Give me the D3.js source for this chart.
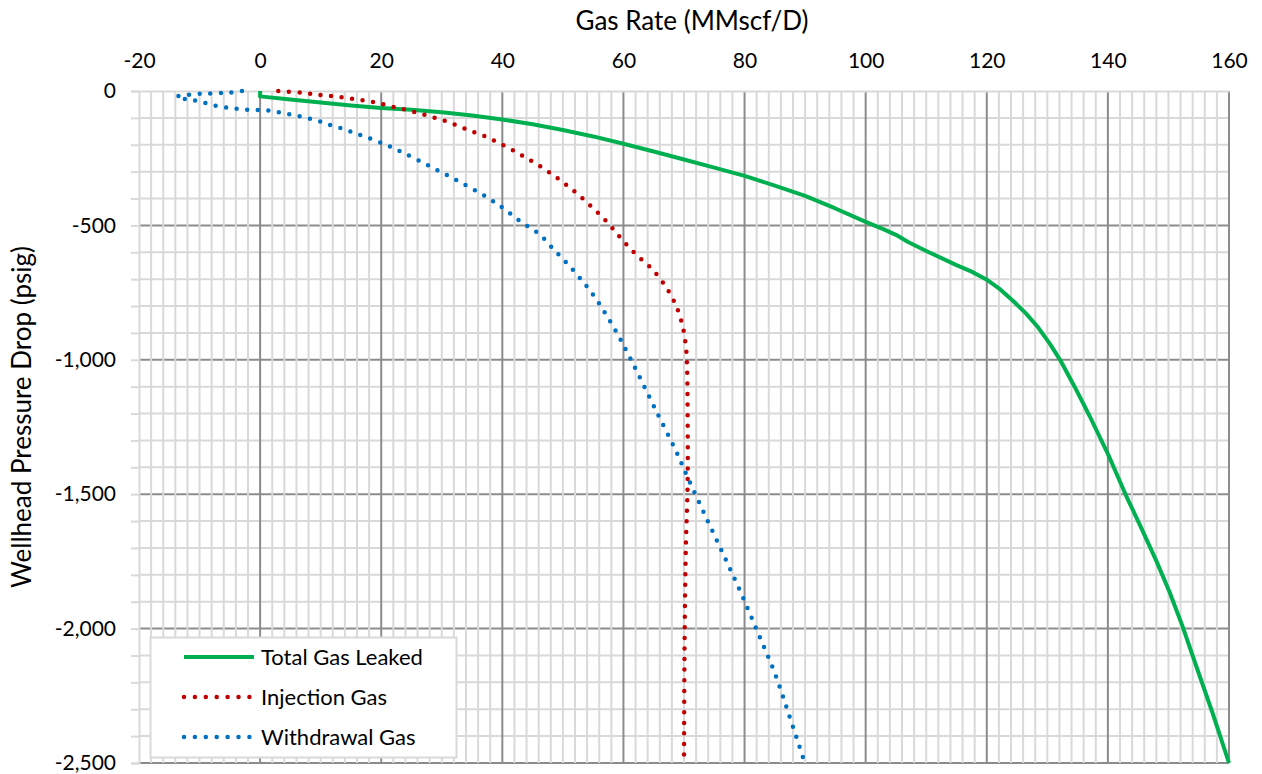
<!DOCTYPE html>
<html>
<head>
<meta charset="utf-8">
<script src="https://cdn.jsdelivr.net/npm/d3@7"></script>
<style>
  body { margin: 0; background: #fff; }
  svg text { font-family: Lato, "Noto Sans", sans-serif; fill: #000; }
</style>
</head>
<body>
<svg id="chart" width="1262" height="774"></svg>
<script>
// Axis ticks
const xTickValues = [-20, 0, 20, 40, 60, 80, 100, 120, 140, 160];
const yTickValues = [0, -500, -1000, -1500, -2000, -2500];
const yTickLabels = ["0", "-500", "-1,000", "-1,500", "-2,000", "-2,500"];

// Total gas leaked: rate (MMscf/D) and wellhead pressure drop (psig)
const totalRate = [0, 0, 5, 10, 15, 20, 25, 30, 35, 40, 45, 50, 55, 60, 65, 70, 75, 80, 85, 90, 95, 100,
  103, 105, 107, 110, 115, 117.5, 120, 122, 124.4, 126.5, 128.5, 130.4, 132.1, 134.5, 137, 140, 143,
  145.6, 148, 150.2, 152.3, 154.6, 157.3, 160];
const totalDrop = [0, -20, -32, -43, -54, -63, -70, -79, -91, -106, -124, -145, -169, -196, -225, -255, -285, -316,
  -352, -390, -437, -487, -515, -535, -562, -595, -648, -672, -702, -734, -782, -828, -880, -940, -1000, -1100, -1210,
  -1350, -1505, -1630, -1748, -1865, -1990, -2140, -2315, -2500];

// Injection gas
const injectionRate = [3, 7, 10, 13, 16, 19, 22, 25, 28, 31, 34, 37, 40.6, 43.6, 46.6, 49.5, 52.3, 54.9, 57.4,
  59.7, 62.1, 64.7, 66.9, 68.6, 69.7, 70.3, 70.5, 70.6, 70.6, 70.3, 70.1, 70.0];
const injectionDrop = [0, -7, -15, -22, -32, -42, -59, -75, -94, -115, -142, -167, -207, -244, -285, -331, -381, -434, -490,
  -551, -608, -662, -725, -794, -868, -947, -1025, -1200, -1460, -1700, -2040, -2500];

// Withdrawal gas
const withdrawalRate = [-3, -5, -8.4, -10.2, -12.1, -13.8, -12.1, -10.5, -8.8, -7.1, -5.3, -3.6, -1.8, 0, 1.8, 3.5, 5.2,
  6.9, 8.6, 10.3, 11.9, 13.7, 15.3, 17, 20.2, 23.5, 28.2, 32.9, 37.5, 40.4, 43.2, 46.1, 48.5, 51, 53.3, 55.4, 57.3,
  59.1, 60.7, 62.3, 65.4, 68.5, 70.6, 73.6, 76.6, 79.5, 82.3, 85, 87.3, 89.5, 89.8];
const withdrawalDrop = [0, -6, -9, -11, -15, -21, -31, -36, -46, -56, -62, -67, -70, -71, -74, -81, -88,
  -96, -105, -116, -129, -141, -154, -167, -195, -228, -282, -337, -396, -440, -489, -532, -590, -649, -709, -771, -838,
  -907, -976, -1047, -1190, -1331, -1437, -1584, -1729, -1872, -2020, -2166, -2318, -2469, -2490];

const seriesNames = ["Total Gas Leaked", "Injection Gas", "Withdrawal Gas"];
const seriesColors = ["#00b050", "#c00000", "#0070c0"];

const svg = d3.select("#chart");
const plotLeft = 139, plotRight = 1229, plotTop = 91, plotBottom = 763;

const x = d3.scaleLinear().domain([-20, 160]).range([plotLeft, plotRight]);
const y = d3.scaleLinear().domain([0, -2500]).range([plotTop, plotBottom]);

const minorColor = "#d9d9d9";
const majorColor = "#8c8c8c";
const fontStack = "Lato, 'Noto Sans', sans-serif";

// Horizontal gridlines (every 100 psig, heavier every 500)
const grid = svg.append("g");
const yMinor = d3.range(-100, -2500, -100).filter(v => v % 500 !== 0);
grid.selectAll(".hminor").data(yMinor).join("line")
  .attr("x1", plotLeft).attr("x2", plotRight)
  .attr("y1", d => y(d)).attr("y2", d => y(d))
  .attr("stroke", minorColor).attr("stroke-width", 2);
grid.selectAll(".hmajor").data(yTickValues.filter(v => v !== 0)).join("line")
  .attr("x1", plotLeft).attr("x2", plotRight)
  .attr("y1", d => y(d)).attr("y2", d => y(d))
  .attr("stroke", majorColor).attr("stroke-width", 2);

// Vertical gridlines (every 2 MMscf/D, heavier every 20)
const xMinor = d3.range(-18, 160, 2).filter(v => v % 20 !== 0);
grid.selectAll(".vminor").data(xMinor).join("line")
  .attr("x1", d => x(d)).attr("x2", d => x(d))
  .attr("y1", plotTop).attr("y2", plotBottom)
  .attr("stroke", minorColor).attr("stroke-width", 2);
grid.selectAll(".vmajor").data(xTickValues.filter(v => v !== -20)).join("line")
  .attr("x1", d => x(d)).attr("x2", d => x(d))
  .attr("y1", plotTop).attr("y2", plotBottom)
  .attr("stroke", majorColor).attr("stroke-width", 2);

// Top axis
const xAxis = d3.axisTop(x).tickValues(xTickValues).tickSize(0).tickPadding(23)
  .tickFormat(d => String(d));
const gx = svg.append("g").attr("transform", `translate(0,${plotTop})`).call(xAxis);
gx.select(".domain").attr("stroke", minorColor).attr("stroke-width", 2);
gx.selectAll("text").attr("font-size", 21).style("font-family", fontStack);

// Left axis
const yAxis = d3.axisLeft(y).tickValues(d3.range(0, -2501, -100)).tickSize(8).tickPadding(15)
  .tickFormat(d => { const i = yTickValues.indexOf(d); return i >= 0 ? yTickLabels[i] : ""; });
const gy = svg.append("g").attr("transform", `translate(${plotLeft},0)`).call(yAxis);
gy.select(".domain").attr("stroke", minorColor).attr("stroke-width", 2);
gy.selectAll(".tick line").attr("stroke", minorColor).attr("stroke-width", 2);
gy.selectAll("text").attr("font-size", 21).style("font-family", fontStack);

// Axis titles
svg.append("text").attr("x", 692).attr("y", 30).attr("text-anchor", "middle")
  .attr("font-size", 26).text("Gas Rate (MMscf/D)");
svg.append("text").attr("transform", "translate(31,417) rotate(-90)").attr("text-anchor", "middle")
  .attr("font-size", 26).text("Wellhead Pressure Drop (psig)");

// Series
const zipSeries = (a, b) => a.map((v, i) => [v, b[i]]);
const series = [
  { pts: zipSeries(totalRate, totalDrop), dotted: false, curve: d3.curveLinear },
  { pts: zipSeries(injectionRate, injectionDrop), dotted: true, curve: d3.curveCatmullRom.alpha(0.5) },
  { pts: zipSeries(withdrawalRate, withdrawalDrop), dotted: true, curve: d3.curveCatmullRom.alpha(0.5) }
];

const plot = svg.append("g");
series.forEach((s, i) => {
  const line = d3.line().x(d => x(d[0])).y(d => y(d[1])).curve(s.curve);
  const p = plot.append("path").attr("d", line(s.pts))
    .attr("fill", "none").attr("stroke", seriesColors[i]);
  if (s.dotted) {
    p.attr("stroke-width", 4.5).attr("stroke-linecap", "round").attr("stroke-dasharray", "0 10.6");
  } else {
    p.attr("stroke-width", 4).attr("stroke-linejoin", "round");
  }
});

// Legend
const legend = svg.append("g");
legend.append("rect").attr("x", 150.5).attr("y", 637.5).attr("width", 306).attr("height", 120)
  .attr("fill", "#fff").attr("stroke", minorColor).attr("stroke-width", 2);
const rowY = [657, 697, 737];
seriesNames.forEach((name, i) => {
  const ln = legend.append("line").attr("x1", 184).attr("x2", 254)
    .attr("y1", rowY[i]).attr("y2", rowY[i]).attr("stroke", seriesColors[i]);
  if (i === 0) ln.attr("stroke-width", 4);
  else ln.attr("stroke-width", 4.5).attr("stroke-linecap", "round").attr("stroke-dasharray", "0 10.9");
  legend.append("text").attr("x", 261).attr("y", rowY[i]).attr("dy", "0.35em")
    .attr("font-size", 22).text(name);
});
</script>
</body>
</html>
